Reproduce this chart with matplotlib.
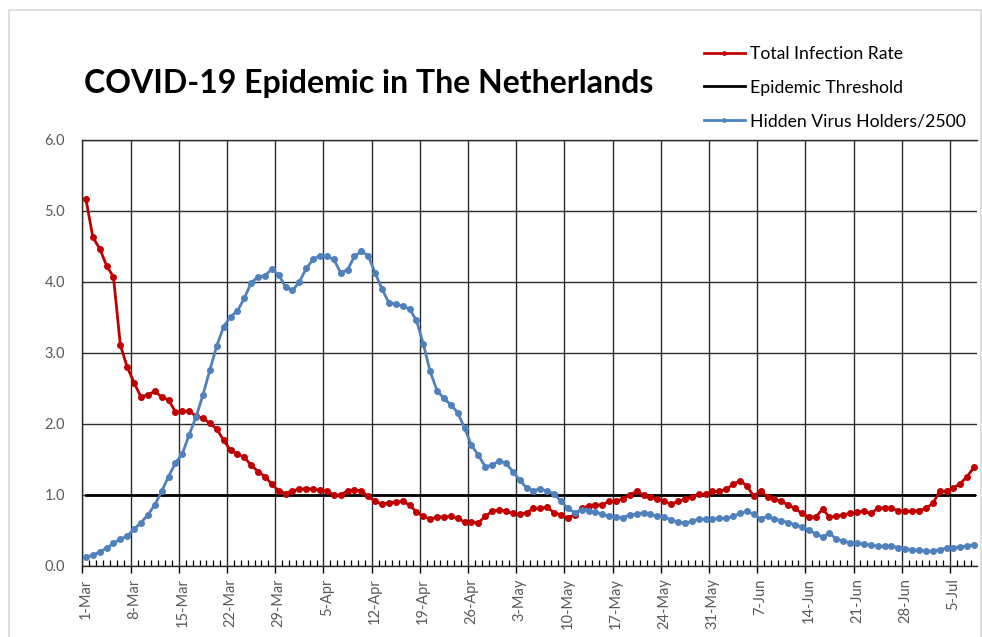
import numpy as np
import matplotlib.pyplot as plt
import matplotlib.transforms as mtransforms
from matplotlib.patches import Rectangle
from matplotlib.ticker import FormatStrFormatter

plt.rcParams['font.family'] = ['Lato', 'DejaVu Sans']

# daily values, 1-Mar .. 8-Jul
infection_rate = [
    5.17, 4.63, 4.47, 4.23, 4.07, 3.11, 2.80, 2.58, 2.38, 2.41,
    2.46, 2.38, 2.34, 2.17, 2.18, 2.18, 2.11, 2.08, 2.01, 1.93,
    1.77, 1.63, 1.58, 1.53, 1.42, 1.33, 1.26, 1.15, 1.06, 1.02,
    1.06, 1.08, 1.09, 1.08, 1.07, 1.06, 1.00, 1.00, 1.06, 1.07,
    1.06, 0.98, 0.91, 0.87, 0.89, 0.90, 0.91, 0.86, 0.76, 0.70,
    0.66, 0.69, 0.69, 0.70, 0.67, 0.62, 0.62, 0.61, 0.70, 0.77,
    0.79, 0.77, 0.74, 0.73, 0.75, 0.81, 0.81, 0.83, 0.75, 0.72,
    0.68, 0.72, 0.81, 0.85, 0.86, 0.86, 0.91, 0.91, 0.95, 1.00,
    1.05, 1.00, 0.97, 0.94, 0.91, 0.87, 0.91, 0.94, 0.97, 1.01,
    1.01, 1.05, 1.05, 1.08, 1.15, 1.20, 1.13, 0.98, 1.06, 0.97,
    0.94, 0.91, 0.86, 0.81, 0.74, 0.69, 0.69, 0.80, 0.69, 0.70,
    0.72, 0.74, 0.76, 0.77, 0.74, 0.81, 0.82, 0.81, 0.78, 0.77,
    0.77, 0.78, 0.81, 0.88, 1.05, 1.05, 1.10, 1.16, 1.26, 1.39,
]
hidden_holders = [
    0.13, 0.15, 0.20, 0.25, 0.32, 0.38, 0.42, 0.52, 0.61, 0.72,
    0.86, 1.05, 1.26, 1.45, 1.58, 1.85, 2.10, 2.41, 2.76, 3.10,
    3.37, 3.51, 3.59, 3.77, 3.99, 4.07, 4.09, 4.18, 4.10, 3.93,
    3.88, 4.00, 4.19, 4.32, 4.37, 4.36, 4.32, 4.13, 4.17, 4.36,
    4.43, 4.37, 4.13, 3.90, 3.71, 3.69, 3.66, 3.62, 3.46, 3.13,
    2.74, 2.47, 2.36, 2.27, 2.16, 1.94, 1.70, 1.56, 1.40, 1.42,
    1.48, 1.45, 1.33, 1.21, 1.10, 1.06, 1.09, 1.05, 1.02, 0.91,
    0.81, 0.75, 0.79, 0.78, 0.76, 0.73, 0.70, 0.69, 0.68, 0.72,
    0.73, 0.75, 0.73, 0.70, 0.69, 0.65, 0.62, 0.60, 0.63, 0.66,
    0.66, 0.66, 0.67, 0.67, 0.70, 0.74, 0.77, 0.73, 0.66, 0.70,
    0.66, 0.64, 0.61, 0.58, 0.55, 0.51, 0.45, 0.41, 0.46, 0.38,
    0.35, 0.33, 0.32, 0.31, 0.29, 0.28, 0.28, 0.28, 0.26, 0.24,
    0.23, 0.22, 0.21, 0.21, 0.23, 0.25, 0.26, 0.27, 0.28, 0.30,
]
threshold = [1.0] * len(infection_rate)
week_labels = ["1-Mar", "8-Mar", "15-Mar", "22-Mar", "29-Mar", "5-Apr",
               "12-Apr", "19-Apr", "26-Apr", "3-May", "10-May", "17-May",
               "24-May", "31-May", "7-Jun", "14-Jun", "21-Jun", "28-Jun",
               "5-Jul"]

days = np.arange(len(infection_rate))

fig = plt.figure(figsize=(9.82, 6.37), dpi=100)
ax = fig.add_axes([0.0840, 0.1115, 0.9114, 0.6688])

# light outer chart border
fig.patches.append(Rectangle((9 / 982, -0.1), 972 / 982, 1 - 10 / 637 + 0.1,
                             transform=fig.transFigure, fill=False,
                             edgecolor='#d9d9d9', lw=1.2))

l_thr, = ax.plot(days, threshold, color='black', lw=2.0, zorder=3,
                 label='Epidemic Threshold')
l_red, = ax.plot(days, infection_rate, color='#C00000', lw=2.0, marker='o',
                 ms=4.0, zorder=4, label='Total Infection Rate')
l_blue, = ax.plot(days, hidden_holders, color='#4F81BD', lw=2.0, marker='o',
                  ms=4.0, zorder=5, label='Hidden Virus Holders/2500')

ax.set_xlim(-0.5, len(days) - 0.5)
ax.set_ylim(0, 6)

# ticks on category boundaries, labels shifted to the day centre
ax.set_xticks(np.arange(0, len(days), 7) - 0.5)
ax.set_xticklabels(week_labels, rotation=90)
ax.set_xticks(np.arange(len(days)) - 0.5, minor=True)
ax.tick_params(axis='x', which='major', direction='out', length=5, width=1,
               color='black', pad=4, labelsize=10.5, labelcolor='#595959')
ax.tick_params(axis='x', which='minor', direction='in', length=4, width=0.9,
               color='black')
shift = mtransforms.ScaledTranslation(3.4 / 100, 0, fig.dpi_scale_trans)
for lbl in ax.get_xticklabels():
    lbl.set_transform(lbl.get_transform() + shift)

ax.set_yticks(np.arange(0, 7, 1))
ax.yaxis.set_major_formatter(FormatStrFormatter('%.1f'))
ax.tick_params(axis='y', length=0, pad=12.5, labelsize=10.5,
               labelcolor='#595959')

ax.grid(True, which='major', color='#2b2b2b', lw=1.0, zorder=1)
ax.spines['right'].set_visible(False)
for s in ['top', 'left', 'bottom']:
    ax.spines[s].set_color('#2b2b2b')
    ax.spines[s].set_linewidth(1.0)

fig.text(84 / 982, 1 - 84 / 637, 'COVID-19 Epidemic in The Netherlands',
         fontsize=23, fontweight='bold', va='center', ha='left')

fig.legend(handles=[l_red, l_thr, l_blue], loc='upper left',
           bbox_to_anchor=(704 / 982, 1 - 46 / 637), frameon=False,
           fontsize=12.7, handlelength=2.3, handletextpad=0.3,
           labelspacing=1.0, borderpad=0, borderaxespad=0, markerscale=0.6)

fig.savefig('out.png', dpi=100)
